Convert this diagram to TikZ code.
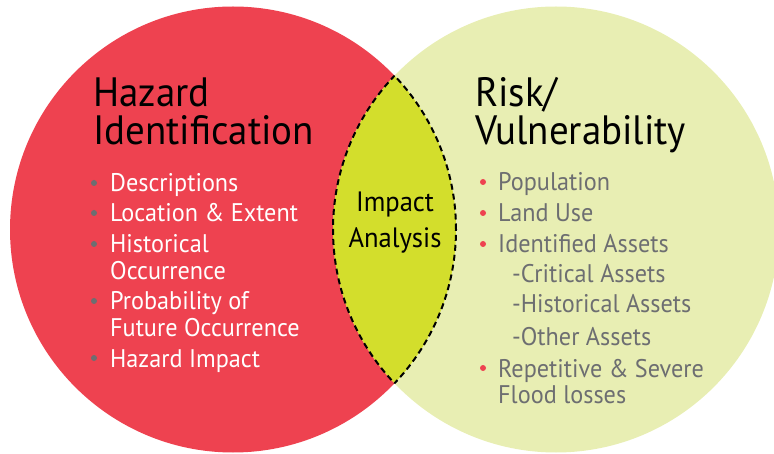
\documentclass[tikz,border=0pt]{standalone}
\usepackage{fontspec}
\setmainfont{PT Sans}[FakeStretch=0.95]
\usetikzlibrary{positioning}
\definecolor{hazred}{RGB}{238,66,80}
\definecolor{riskgreen}{RGB}{232,238,179}
\definecolor{lensgreen}{RGB}{211,222,44}
\definecolor{txtgray}{RGB}{109,110,113}

\begin{document}
\begin{tikzpicture}[x=1pt,y=1pt,
  title/.style={anchor=base west,inner sep=0pt,font=\fontsize{41}{41}\selectfont},
  item/.style={anchor=base west,inner sep=0pt,font=\fontsize{25.5}{25.5}\selectfont},
  dot/.style={circle,inner sep=0pt,minimum size=6pt},
  lensline/.style={black,line width=2pt,dash pattern=on 6pt off 4pt}]
\useasboundingbox (0,0) rectangle (774,453);
% ================= circles =================
\coordinate (hzc) at (233,223.5);
\coordinate (rkc) at (556,223.5);
\fill[hazred] (hzc) circle (223pt);
\fill[riskgreen] (rkc) circle (223pt);
% overlap = impact lens, dashed rim
\begin{scope}
  \clip (hzc) circle (223pt);
  \fill[lensgreen] (rkc) circle (223pt);
  \draw[lensline] (rkc) circle (223pt);
\end{scope}
\begin{scope}
  \clip (rkc) circle (223pt);
  \draw[lensline] (hzc) circle (223pt);
\end{scope}
% ================= LEFT: hazard =================
\node[title] (hzt1) at (93,346) {Hazard};
\node[title] (hzt2) at (93,308) {Identification};
\foreach \y/\lab [count=\i] in {261/Descriptions,231/Location \& Extent,
    200/Historical,173/Occurrence,143/Probability of,117/Future Occurrence,86/Hazard Impact}
  \node[item,white] (hz\i) at (110,\y) {\lab};
\foreach \y [count=\i] in {270,240,209,152,95}
  \node[dot,fill=txtgray] (hzb\i) at (94,\y) {};
% ================= MIDDLE: impact =================
\node[item,anchor=base,black,font=\fontsize{28}{28}\selectfont] (imp1) at (395,241) {Impact};
\node[item,anchor=base,black,font=\fontsize{28}{28}\selectfont] (imp2) at (395,205) {Analysis};
% ================= RIGHT: risk =================
\node[title] (rkt1) at (475,346) {Risk/};
\node[title] (rkt2) at (475,308) {Vulnerability};
\foreach \x/\y/\lab [count=\i] in {498/262/Population,498/231/Land Use,498/200/Identified Assets,
    512/170/-Critical Assets,512/140/-Historical Assets,512/108/-Other Assets,
    498/76/Repetitive \& Severe,498/50/Flood losses}
  \node[item,txtgray] (rk\i) at (\x,\y) {\lab};
\foreach \y [count=\i] in {271,240,209,85}
  \node[dot,fill=hazred] (rkb\i) at (483,\y) {};
\end{tikzpicture}
\end{document}
